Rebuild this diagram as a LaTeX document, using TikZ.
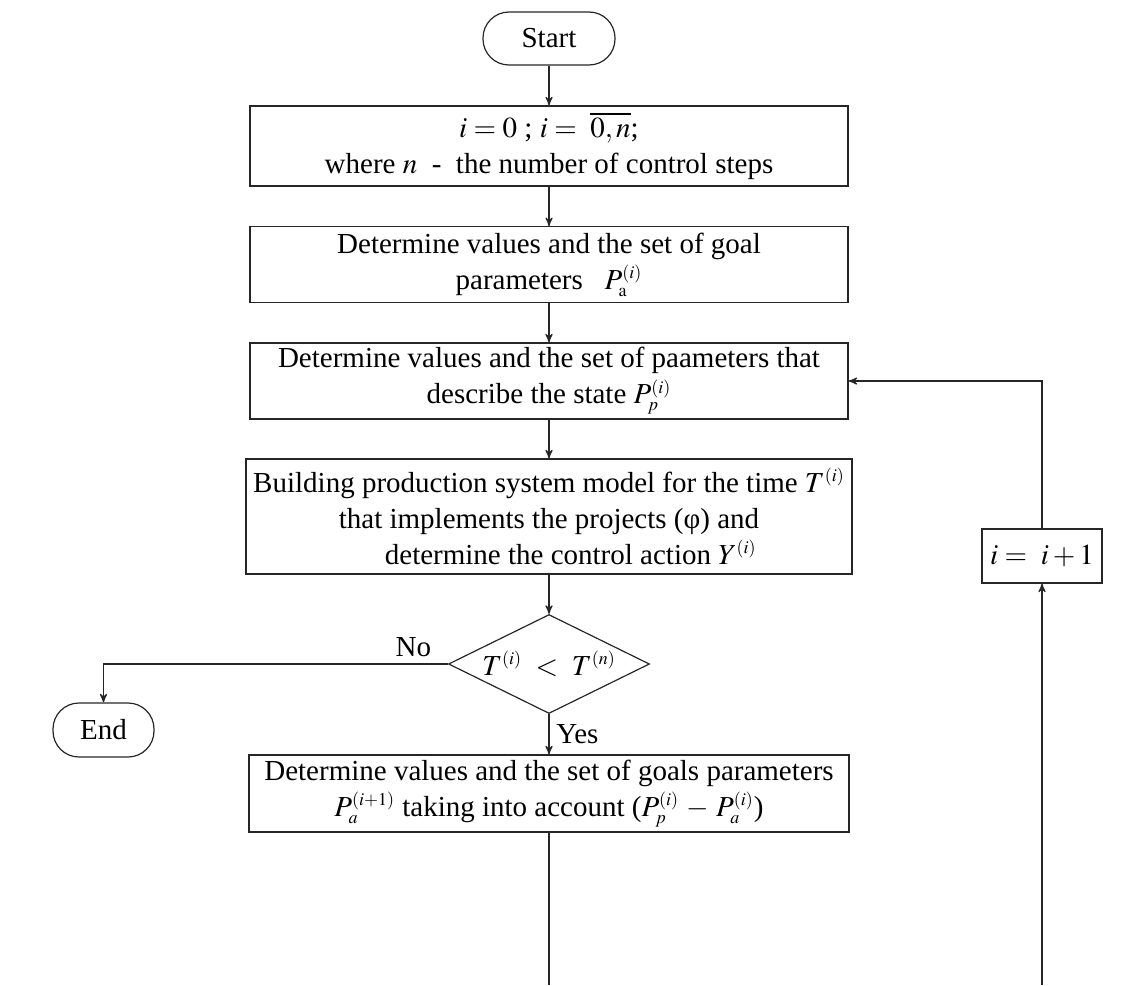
\documentclass[tikz,border=0pt]{standalone}
\usepackage{amsmath , amssymb}
\usepackage{mathptmx}
\usepackage{fontspec}
\setmainfont{Liberation Serif}
\usepackage{tikz}
\usetikzlibrary{shapes.geometric, positioning, arrows}
\DeclareMathSizes{14.5}{14.5}{9}{7}
\newcommand{\chartfont}{\fontsize{14.5}{18}\selectfont\lineskiplimit=-30pt\relax}

\begin{document}
\begin{tikzpicture}[->, >=stealth', semithick, x=0.5pt, y=-0.5pt, draw=black!85,
	every node/.style={font=\chartfont},
	block/.style={draw, rectangle, align=center, inner sep=2pt, minimum width=299pt},
	term/.style={draw, rectangle, rounded corners=13pt, minimum width=66pt, minimum height=26.5pt},
	test/.style={draw, diamond, aspect=2, inner sep=0pt, minimum width=100.5pt, minimum height=49.5pt}]
	\useasboundingbox (0,0) rectangle (1140,985);
	\node[term] (1) at (549,38.5) {Start};
	\node[block, minimum height=40pt] (2) at (549,146) {$i = 0$ ; $i = \ \overline{0,n}$;\\where $n$ \ - \ the number of control steps};
	\node[block, minimum height=37.75pt] (3) at (549,264.5) {Determine values and the set of goal\\parameters \ \ $P_{\mathrm{a}}^{(i)}$};
	\node[block, minimum height=38pt] (4) at (549,381) {Determine values and the set of paameters that\\describe the state $P_p^{(i)}$};
	\node[block, minimum width=303pt, minimum height=57.5pt] (5) at (549,516.5) {Building production system model for the time $T^{(i)}$\\that implements the projects (φ) and\\\hspace*{1.5em}determine the control action $Y^{(i)}$};
	\node[test] (6) at (549,664) {$T^{(i)} \ < \ T^{(n)}$};
	\node[term, minimum width=50.5pt, minimum height=27pt] (7) at (103.5,730) {End};
	\node[block, minimum width=300pt, minimum height=38.5pt] (8) at (549,793.5) {Determine values and the set of goals parameters\\$P_a^{(i+1)}$ taking into account ($P_p^{(i)} \, - \, P_a^{(i)}$)};
	\node[block, minimum width=60pt, minimum height=27pt] (9) at (1042,556) {$i = \ i + 1$};
	\coordinate (b1) at (549,985);
	\coordinate (b2) at (1042,985);
	\draw	(1) edge (2)
			(2) edge (3)
			(3) edge (4)
			(4) edge (5)
			(5) edge (6)
			(6) edge [right] node{Yes} (8)
	;
	\draw (6) -| node[pos=0.05, above]{No} (7);
	\draw[-] (8) -- (b1);
	\draw (b2) -- (9);
	\draw (9) |- (4);
\end{tikzpicture}
\end{document}
